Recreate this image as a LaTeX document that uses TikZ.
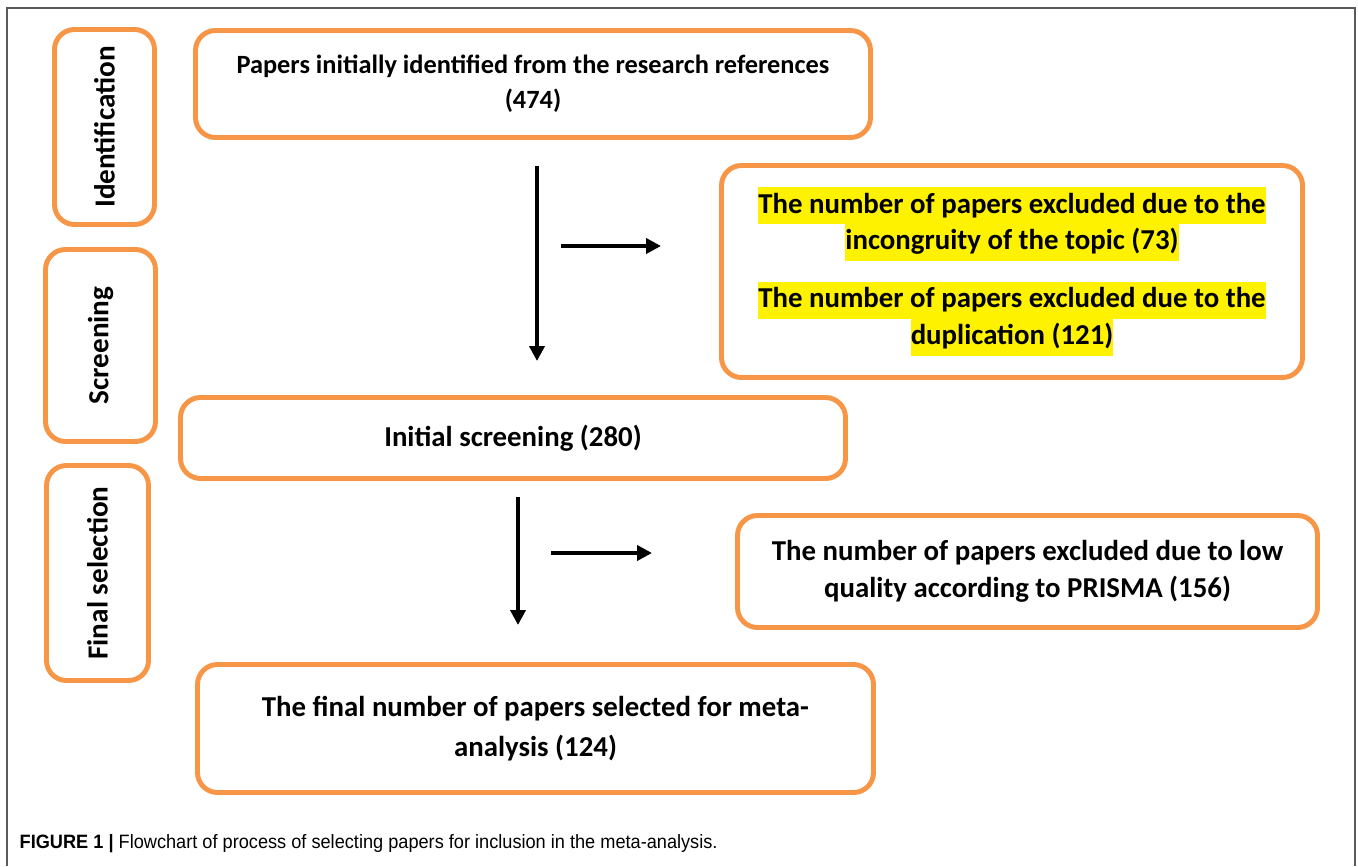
\documentclass[tikz,border=0pt]{standalone}
\usepackage{fontspec}
\setmainfont{Carlito}
\newfontfamily\capfont[FakeStretch=0.94]{Liberation Sans}
\usepackage{tikz}
\usetikzlibrary{arrows.meta,positioning}
\definecolor{boxorange}{RGB}{247,150,70}
\definecolor{framegray}{RGB}{90,90,90}
\newcommand{\hlt}[1]{{\setlength{\fboxsep}{0pt}\colorbox{yellow}{\strut #1}}}

\begin{document}
\begin{tikzpicture}[
    box/.style={draw=boxorange, line width=1.4pt, rounded corners=0.2cm,
      align=center, font=\fontsize{8.2}{10.5}\selectfont\bfseries, inner sep=0pt},
    stage/.style={box, rotate=90, font=\fontsize{8.3}{10}\selectfont\bfseries},
    flow/.style={line width=1.1pt, -{Triangle[length=0.15cm,width=0.15cm]}}]
        \useasboundingbox (0,0) rectangle (13.58,-8.66);
        %Frame
        \draw[framegray, line width=0.5pt] (0.07,-8.66) |- (13.55,-0.08) -- (13.55,-8.66);
        %Stages
        \node[stage, minimum width=1.95cm, minimum height=1.00cm] (ident) at (1.045,-1.27) {Identification};
        \node[stage, minimum width=1.92cm, minimum height=1.10cm] (screen) at (1.005,-3.455) {Screening};
        \node[stage, minimum width=2.15cm, minimum height=1.02cm] (finsel) at (0.975,-5.73) {Final selection};
        %Boxes
        \node[box, minimum width=6.75cm, minimum height=1.07cm, font=\fontsize{7.5}{10}\selectfont\bfseries]
          (papers) at (5.33,-0.84)
          {Papers initially identified from the research references\\(474)};
        \node[box, minimum width=5.81cm, minimum height=2.12cm] (excl1) at (10.12,-2.715)
          {\hlt{The number of papers excluded due to the}\\\hlt{incongruity of the topic (73)}\\[0.21cm]
           \hlt{The number of papers excluded due to the}\\\hlt{duplication (121)}};
        \node[box, minimum width=6.65cm, minimum height=0.81cm] (init) at (5.13,-4.38) {Initial screening (280)};
        \node[box, minimum width=5.80cm, minimum height=1.12cm] (excl2) at (10.275,-5.715)
          {The number of papers excluded due to low\\quality according to PRISMA (156)};
        \node[box, minimum width=6.76cm, minimum height=1.28cm, font=\fontsize{8.2}{11.4}\selectfont\bfseries]
          (final) at (5.355,-7.285)
          {The final number of papers selected for meta-\\analysis (124)};
        %Arrows
        \coordinate (d1a) at (5.37,-1.66);
        \coordinate (d1b) at (5.37,-3.61);
        \coordinate (r1a) at (5.61,-2.46);
        \coordinate (r1b) at (6.61,-2.46);
        \coordinate (d2a) at (5.18,-4.97);
        \coordinate (d2b) at (5.18,-6.25);
        \coordinate (r2a) at (5.51,-5.53);
        \coordinate (r2b) at (6.52,-5.53);
        \draw[flow] (d1a) -- (d1b);
        \draw[flow] (r1a) -- (r1b);
        \draw[flow] (d2a) -- (d2b);
        \draw[flow] (r2a) -- (r2b);
        %Caption
        \node[anchor=west, inner sep=0pt, font=\capfont\fontsize{5.5}{6.5}\selectfont] (cap) at (0.19,-8.44)
          {\textbf{FIGURE 1 |} Flowchart of process of selecting papers for inclusion in the meta-analysis.};
      \end{tikzpicture}
\end{document}
